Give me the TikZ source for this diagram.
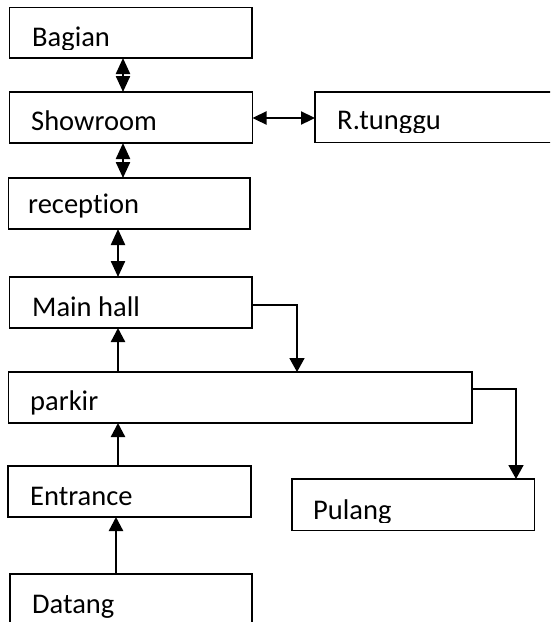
\documentclass[tikz,border=0pt]{standalone}
\usepackage{fontspec}
\setmainfont{Carlito}[RawFeature={-liga}]
\usetikzlibrary{arrows.meta}
\begin{document}
\begin{tikzpicture}[x=1pt,y=-1pt,
  room/.style={draw=black, line width=1.5pt, fill=white, inner sep=0pt, outer sep=0pt, anchor=north west},
  lbl/.style={inner sep=0pt, anchor=base west, font=\fontsize{28.5}{34}\selectfont},
  link/.style={line width=2.3pt},
  dbl/.style={link, {Triangle[length=16pt,width=14pt]}-{Triangle[length=16pt,width=14pt]}},
  dblh/.style={link, {Triangle[length=14pt,width=13pt]}-{Triangle[length=14pt,width=13pt]}},
  up/.style={link, -{Triangle[length=14pt,width=14pt]}},
  turn/.style={line width=1.8pt, -{Triangle[length=14pt,width=15pt]}}]

  % page
  \clip (0,0) rectangle (550,622);
  \fill[white] (0,0) rectangle (550,622);

  % rooms
  \node[room, minimum width=242.5pt, minimum height=50.5pt] (bagian)    at (9.5,7.5) {};
  \node[room, minimum width=243pt,   minimum height=51pt]   (showroom)  at (9.5,92) {};
  \node[room, minimum width=245pt,   minimum height=50.5pt] (rtunggu)   at (315,92) {};
  \node[room, minimum width=241.5pt, minimum height=51pt]   (reception) at (8.5,178) {};
  \node[room, minimum width=242.5pt, minimum height=51pt]   (mainhall)  at (9.5,277) {};
  \node[room, minimum width=463.5pt, minimum height=51pt]   (parkir)    at (8.5,372) {};
  \node[room, minimum width=243pt,   minimum height=51pt]   (entrance)  at (8,466) {};
  \node[room, minimum width=242.5pt, minimum height=51.5pt] (pulang)    at (292,479) {};
  \node[room, minimum width=242pt,   minimum height=60pt]   (datang)    at (10,574) {};

  % labels (some are cut off at the text frame of their box)
  \begin{scope}
    \clip (10,8) rectangle (251,49);
    \node[lbl] (tbagian) at (32,46) {Bagian};
  \end{scope}
  \node[lbl] (tshowroom)  at (31,130) {Showroom};
  \begin{scope}
    \clip (316,93) rectangle (550,132);
    \node[lbl] (trtunggu) at (337,129) {R.tunggu};
  \end{scope}
  \node[lbl] (treception) at (28,213) {reception};
  \node[lbl] (tmainhall)  at (32,316) {Main hall};
  \node[lbl] (tparkir)    at (30,410) {parkir};
  \node[lbl] (tentrance)  at (30,505) {Entrance};
  \begin{scope}
    \clip (293,480) rectangle (533,522);
    \node[lbl] (tpulang) at (313,519) {Pulang};
  \end{scope}
  \node[lbl] (tdatang)    at (32,613) {Datang};

  % connector columns and rows
  \coordinate (colA) at (123,0);
  \coordinate (colB) at (118,0);
  \coordinate (colC) at (116,0);
  \coordinate (colD) at (297,0);
  \coordinate (colE) at (516,0);
  \coordinate (rowA) at (0,118);
  \coordinate (rowB) at (0,305);
  \coordinate (rowC) at (0,389);

  % connectors
  \draw[dbl]  (colA |- bagian.south) -- (colA |- showroom.north);
  \draw[dblh] (showroom.east |- rowA) -- (rtunggu.west |- rowA);
  \draw[dbl]  (colA |- showroom.south) -- (colA |- reception.north);
  \draw[dbl]  (colB |- reception.south) -- (colB |- mainhall.north);
  \draw[up]   (colB |- parkir.north) -- (colB |- mainhall.south);
  \draw[up]   (colB |- entrance.north) -- (colB |- parkir.south);
  \draw[up]   (colC |- datang.north) -- (colC |- entrance.south);
  \draw[turn] (mainhall.east |- rowB) -| (colD |- parkir.north);
  \draw[turn] (parkir.east |- rowC) -| (colE |- pulang.north);
\end{tikzpicture}
\end{document}
